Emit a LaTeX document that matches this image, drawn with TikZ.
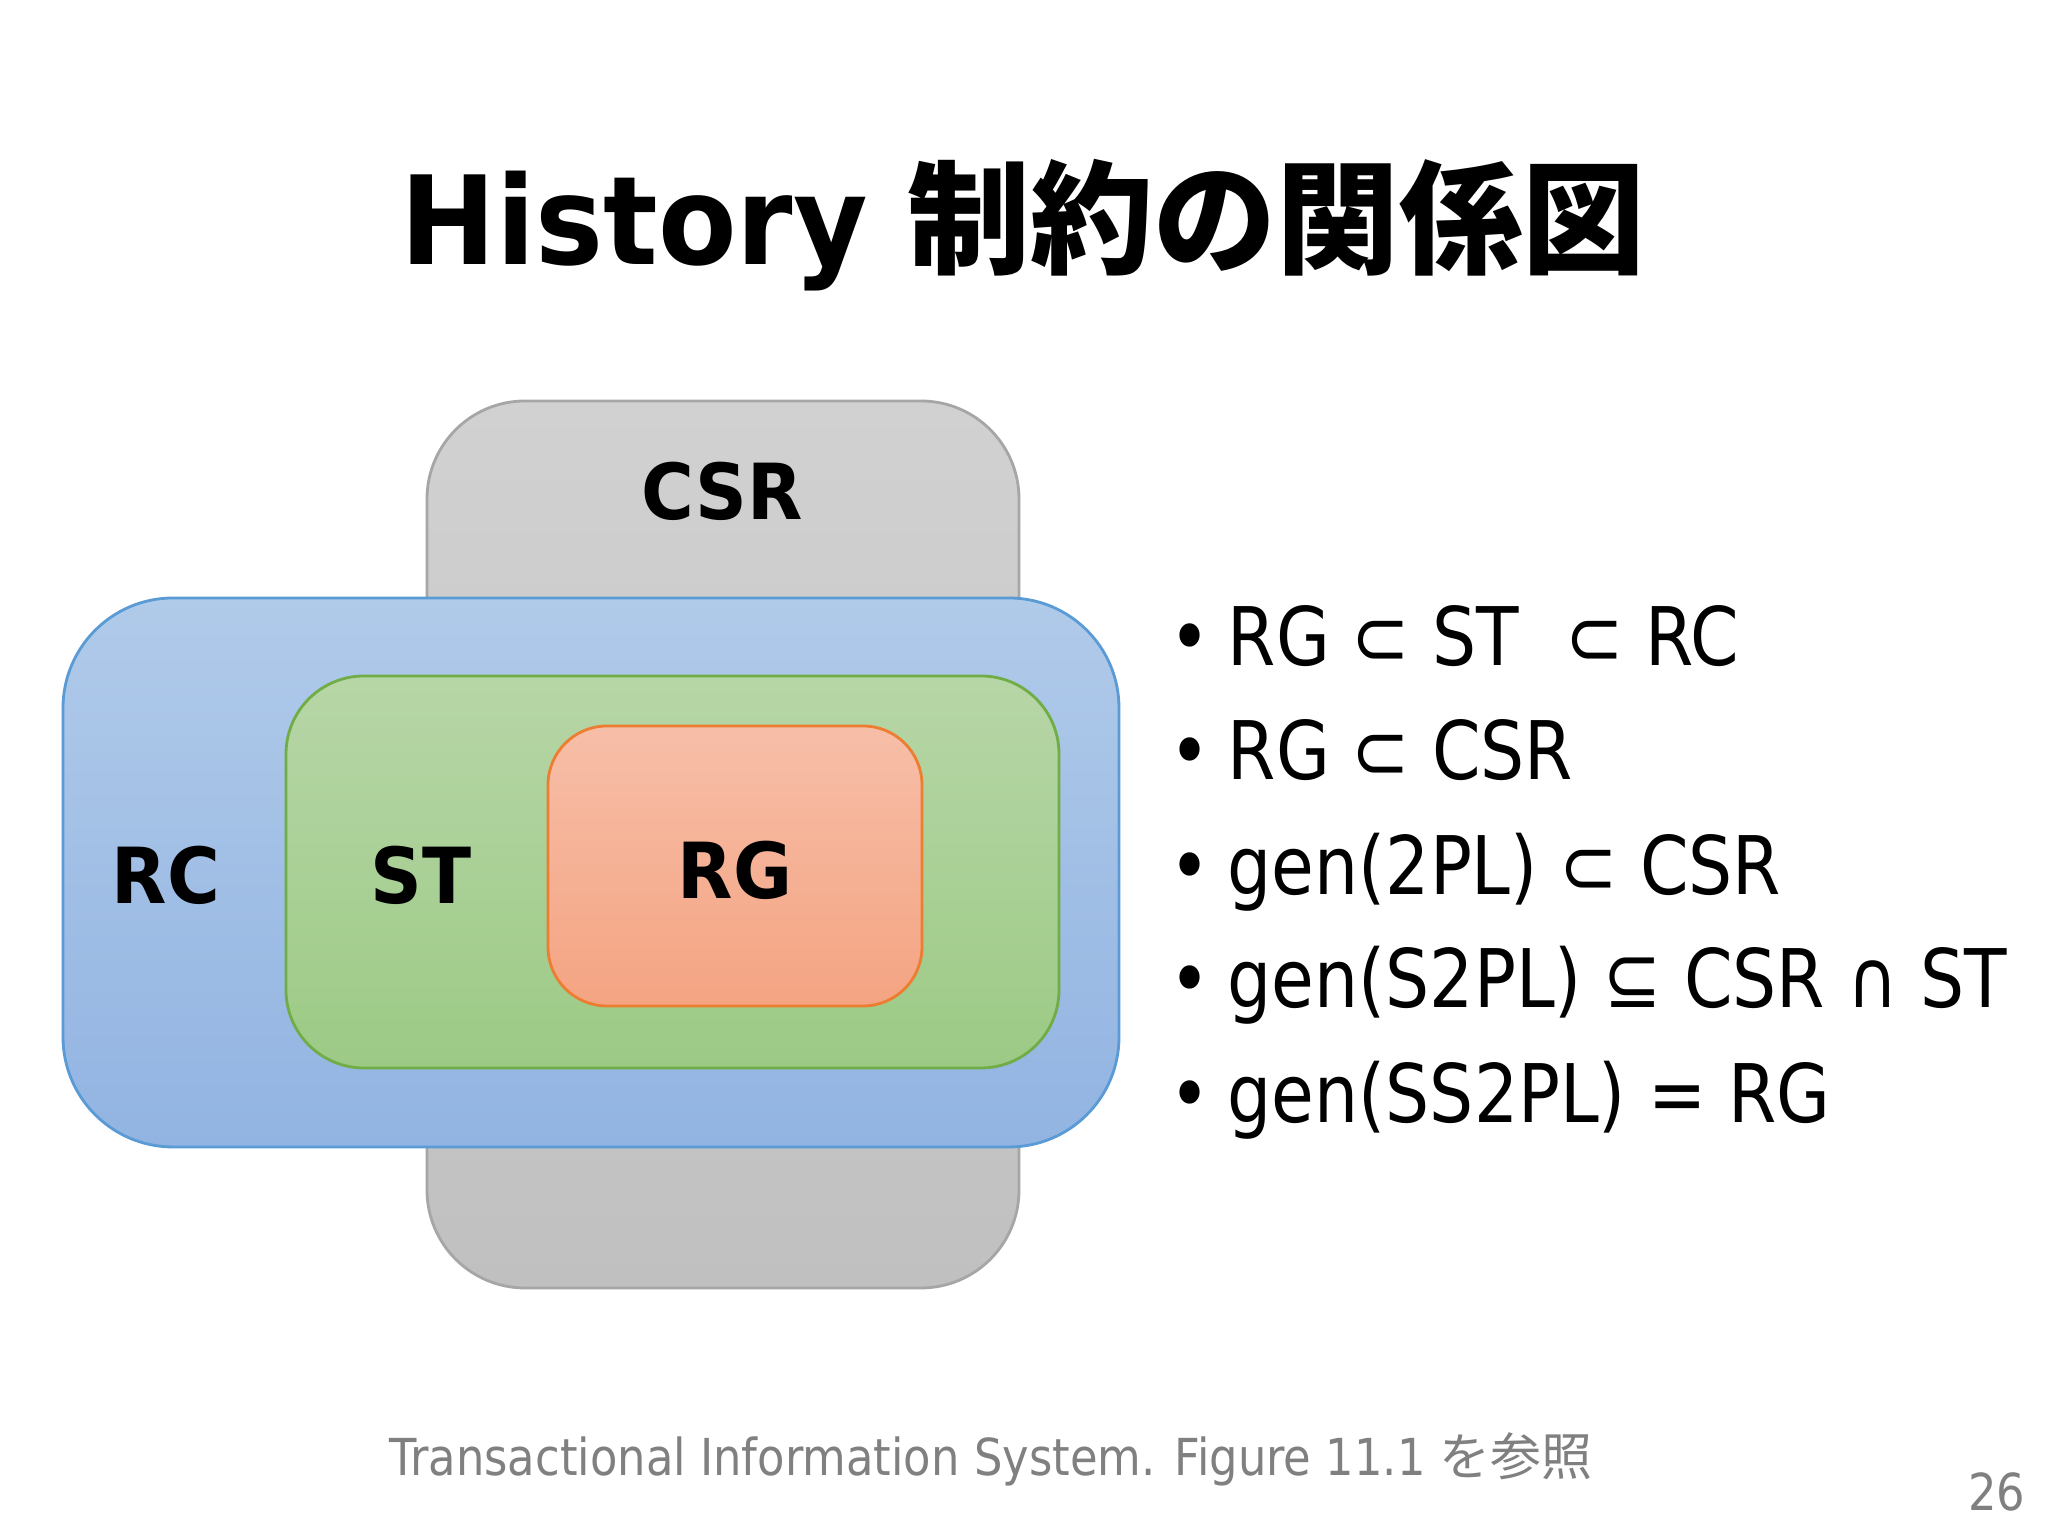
\documentclass[tikz,border=0pt]{standalone}
\usepackage{fontspec}
\setmainfont{DejaVu Sans}
\newfontfamily\titlefont[FakeStretch=0.93]{DejaVu Sans}
\newfontfamily\titlecjk{Noto Sans CJK JP}
\newfontfamily\listfont[FakeStretch=0.86]{DejaVu Sans}
\newfontfamily\footfont[FakeStretch=0.88]{DejaVu Sans}
\newfontfamily\footcjk{Noto Sans CJK JP}
\definecolor{csrtop}{RGB}{209,209,209}
\definecolor{csrbot}{RGB}{193,192,193}
\definecolor{csrline}{RGB}{166,166,166}
\definecolor{rctop}{RGB}{176,202,233}
\definecolor{rcbot}{RGB}{146,180,226}
\definecolor{rcline}{RGB}{91,155,213}
\definecolor{sttop}{RGB}{183,214,167}
\definecolor{stbot}{RGB}{156,202,133}
\definecolor{stline}{RGB}{112,173,71}
\definecolor{rgtop}{RGB}{247,190,168}
\definecolor{rgbot}{RGB}{244,164,130}
\definecolor{rgline}{RGB}{237,125,49}
\definecolor{footgray}{RGB}{128,128,128}
\tikzset{
  setbox/.style={line width=0.8pt, inner sep=0pt},
  csrbox/.style={setbox, draw=csrline, top color=csrtop, bottom color=csrbot,
                 rounded corners=9.8mm, minimum width=59.2mm, minimum height=88.7mm},
  rcbox/.style={setbox, draw=rcline, top color=rctop, bottom color=rcbot,
                rounded corners=11mm, minimum width=105.6mm, minimum height=54.9mm},
  stbox/.style={setbox, draw=stline, top color=sttop, bottom color=stbot,
                rounded corners=7.8mm, minimum width=77.3mm, minimum height=39.2mm},
  rgbox/.style={setbox, draw=rgline, top color=rgtop, bottom color=rgbot,
                rounded corners=5.9mm, minimum width=37.4mm, minimum height=28mm},
  setlab/.style={anchor=base, inner sep=0pt,
                 font=\titlefont\bfseries\fontsize{22}{24}\selectfont},
  relline/.style={anchor=base west, inner sep=0pt,
                  font=\listfont\fontsize{23}{26}\selectfont},
  dot/.style={anchor=base, inner sep=0pt,
              font=\listfont\fontsize{23}{26}\selectfont},
  foot/.style={inner sep=0pt, text=footgray,
               font=\footfont\fontsize{14.5}{16}\selectfont},
}
\begin{document}
\begin{tikzpicture}[x=1cm,y=1cm]
  \path[use as bounding box, fill=white] (0,0) rectangle (20.48,15.36);

  \node[anchor=base, inner sep=0pt] (title) at (10.23,12.71)
    {\titlefont\bfseries\fontsize{35}{40}\selectfont History
     {\titlecjk\bfseries 制約の関係図}};

  % nested history classes
  \node[csrbox] (CSR) at (7.23,6.915) {};
  \node[rcbox] (RC) at (5.91,6.635) {};
  \node[stbox] (ST) at (6.725,6.64) {};
  \node[rgbox] (RG) at (7.35,6.70) {};

  \node[setlab] (CSRlab) at (7.22,10.16) {CSR};
  \node[setlab] (RClab) at (1.66,6.32) {RC};
  \node[setlab] (STlab) at (4.21,6.32) {ST};
  \node[setlab] (RGlab) at (7.35,6.37) {RG};

  % relations
  \node[dot] (d1) at (11.90,8.70) {•};
  \node[relline] (r1) at (12.27,8.70) {RG ⊂ ST\hspace{0.3em} ⊂ RC};
  \node[dot] (d2) at (11.90,7.56) {•};
  \node[relline] (r2) at (12.27,7.56) {RG ⊂ CSR};
  \node[dot] (d3) at (11.90,6.41) {•};
  \node[relline] (r3) at (12.27,6.41) {gen(2PL) ⊂ CSR};
  \node[dot] (d4) at (11.90,5.28) {•};
  \node[relline] (r4) at (12.27,5.28) {gen(S2PL) ⊆ CSR ∩ ST};
  \node[dot] (d5) at (11.90,4.13) {•};
  \node[relline] (r5) at (12.27,4.13) {gen(SS2PL) = RG};

  \node[foot, anchor=base] (source) at (9.91,0.60)
    {Transactional Information System. Figure 11.1 {\footcjk を参照}};
  \node[foot, anchor=base east] (page) at (20.26,0.25) {26};
\end{tikzpicture}
\end{document}
